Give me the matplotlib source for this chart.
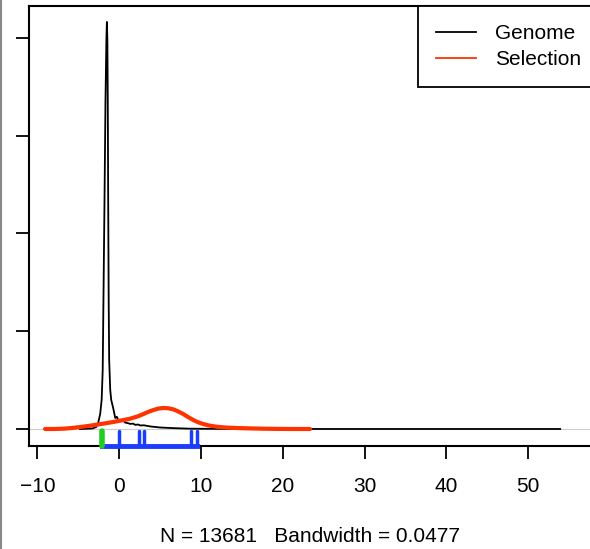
import matplotlib
matplotlib.use("Agg")
import matplotlib.pyplot as plt
from matplotlib.lines import Line2D

plt.rcParams['font.family'] = ['Liberation Sans', 'DejaVu Sans']

# genome density
genome_x = [-4.8, -3.3, -2.82, -2.58, -2.33, -2.15, -2.02, -1.93, -1.80, -1.68,
            -1.57, -1.51, -1.45, -1.40, -1.35, -1.29, -1.23, -1.10, -0.98, -0.74,
            -0.49, -0.30, -0.12, 0.25, 0.50, 0.74, 1.05, 1.35, 1.70, 1.96, 2.30,
            2.58, 3.0, 3.80, 5.03, 6.87, 8.71, 12.4, 20.0, 53.9]
genome_y = [0.0, 0.005, 0.02, 0.061, 0.153, 0.297, 0.604, 1.32, 2.343, 3.366,
            3.98, 4.164, 3.98, 3.366, 2.343, 1.32, 0.706, 0.399, 0.297, 0.215,
            0.113, 0.125, 0.092, 0.082, 0.085, 0.065, 0.06, 0.052, 0.055, 0.042,
            0.046, 0.036, 0.038, 0.026, 0.015, 0.008, 0.003, 0.001, 0.0, 0.0]

# selection density
sel_x = [-9.07, -8.0, -6.83, -5.8, -4.79, -3.8, -2.75, -1.7, -0.72, 0.3, 1.32,
         2.3, 2.95, 3.55, 4.17, 4.8, 5.39, 6.0, 6.61, 7.2, 7.83, 8.4, 9.05,
         9.6, 10.27, 11.0, 11.92, 13.0, 14.36, 16.0, 17.62, 19.2, 20.88, 23.33]
sel_y = [0.0, 0.0, 0.003, 0.01, 0.020, 0.031, 0.044, 0.058, 0.072, 0.088, 0.105,
         0.13, 0.153, 0.175, 0.194, 0.209, 0.215, 0.212, 0.201, 0.18, 0.153, 0.123,
         0.092, 0.07, 0.051, 0.035, 0.023, 0.015, 0.010, 0.006, 0.003, 0.001, 0.0, 0.0]

# rug marks
green_rug = [-2.1]
blue_rug = [-0.06, 2.42, 3.07, 8.80, 9.53]

xticks = [-10, 0, 10, 20, 30, 40, 50]
yticks = [0, 1, 2, 3, 4]

W, H = 590, 549
fig = plt.figure(figsize=(W / 100, H / 100), dpi=100)
ax = fig.add_axes([29 / W, (H - 446) / H, (596 - 29) / W, (446 - 6) / H])

ax.axhline(0, color='#cccccc', lw=0.8, zorder=1)
ax.plot(genome_x, genome_y, color='black', lw=1.3, zorder=3)
ax.plot(sel_x, sel_y, color='#ff3300', lw=3.0, solid_capstyle='round',
        solid_joinstyle='round', zorder=4)

ymin = -0.174
top = -0.02
ax.plot([green_rug[0], blue_rug[-1]], [ymin, ymin], color='#1a3cff', lw=3.5,
        clip_on=False, zorder=6)
for xv in blue_rug:
    ax.plot([xv, xv], [top, ymin], color='#1a3cff', lw=2.5, solid_capstyle='round',
            clip_on=False, zorder=6)
for xv in green_rug:
    ax.plot([xv, xv], [top, ymin], color='#22cc22', lw=4, solid_capstyle='round',
            clip_on=False, zorder=7)

ax.set_xlim(-11.03, 58.28)
ax.set_ylim(ymin, 4.327)
ax.set_xticks(xticks)
ax.set_yticks(yticks)
ax.set_yticklabels([])
ax.tick_params(axis='both', direction='out', length=9.5, width=1.3, labelsize=15, pad=13)
for s in ax.spines.values():
    s.set_linewidth(1.5)

handles = [Line2D([], [], color='black', lw=1.3),
           Line2D([], [], color='#ff3300', lw=1.3)]
leg = ax.legend(handles, ['Genome', 'Selection'], loc='upper left',
                bbox_to_anchor=(418 / W, (H - 6) / H), bbox_transform=fig.transFigure,
                borderaxespad=0, fancybox=False, framealpha=1, edgecolor='black',
                fontsize=15, handlelength=1.9, handletextpad=0.9, borderpad=0.88,
                labelspacing=0.32)
leg.get_frame().set_linewidth(1.3)

fig.text(310 / W, (H - 536) / H, 'N = 13681   Bandwidth = 0.0477',
         ha='center', va='center', fontsize=15)

fig.add_artist(Line2D([1 / W, 1 / W], [0, 1], color='#888888', lw=1.5,
                      transform=fig.transFigure))

fig.savefig('out.png', dpi=100)
